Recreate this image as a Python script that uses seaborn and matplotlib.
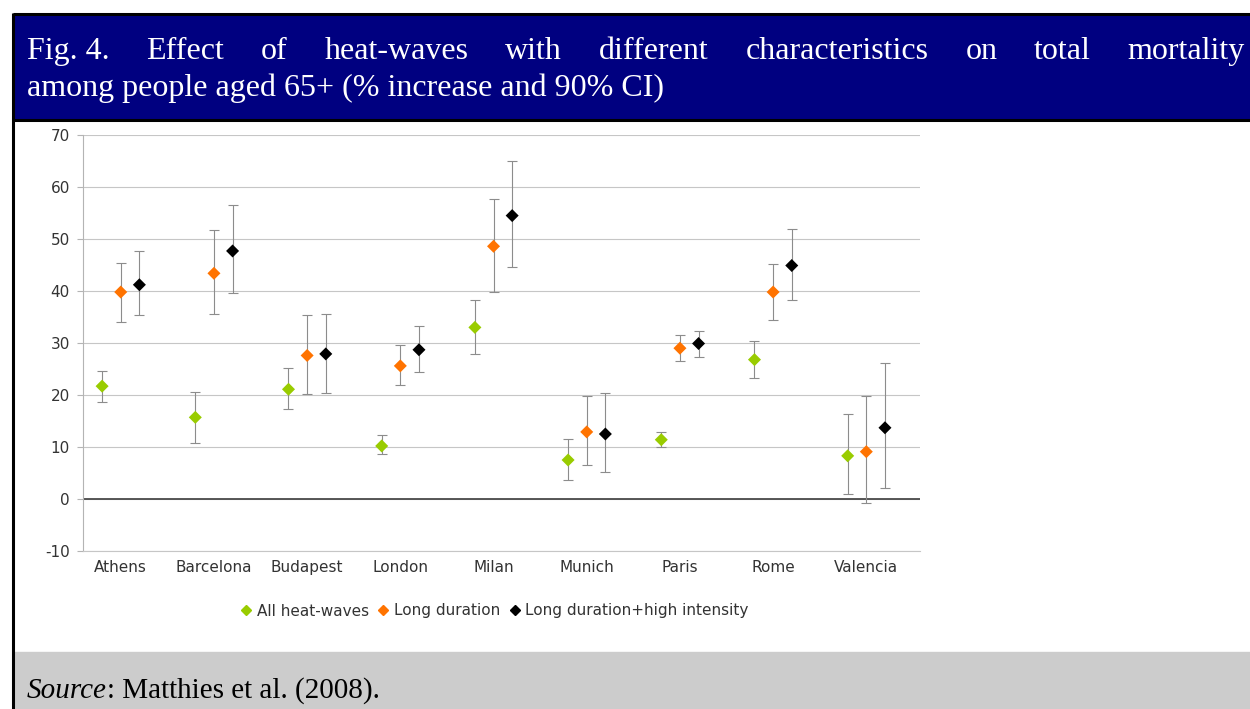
import matplotlib
matplotlib.use("Agg")
import matplotlib.pyplot as plt
from matplotlib.lines import Line2D
from matplotlib.patches import Rectangle
import numpy as np
import pandas as pd
import seaborn as sns

# ---- data: % increase in mortality (65+) with 90% CI ----
cities = ["Athens", "Barcelona", "Budapest", "London", "Milan",
          "Munich", "Paris", "Rome", "Valencia"]
series = ["All heat-waves", "Long duration", "Long duration+high intensity"]

all_est = [21.7, 15.7, 21.1, 10.2, 33.0, 7.5, 11.4, 26.8, 8.3]
all_lo = [18.6, 10.8, 17.4, 8.6, 27.9, 3.7, 10.0, 23.3, 0.9]
all_hi = [24.7, 20.5, 25.1, 12.3, 38.3, 11.5, 12.9, 30.4, 16.3]

long_est = [39.8, 43.4, 27.6, 25.6, 48.6, 12.9, 29.0, 39.8, 9.1]
long_lo = [34.1, 35.5, 20.2, 21.9, 39.8, 6.6, 26.5, 34.4, -0.8]
long_hi = [45.4, 51.8, 35.3, 29.6, 57.7, 19.9, 31.6, 45.2, 19.9]

intense_est = [41.2, 47.7, 27.9, 28.7, 54.5, 12.5, 29.9, 44.9, 13.7]
intense_lo = [35.3, 39.6, 20.4, 24.5, 44.7, 5.1, 27.3, 38.3, 2.1]
intense_hi = [47.6, 56.5, 35.5, 33.2, 65.0, 20.4, 32.4, 52.0, 26.1]

y_ticks = list(range(-10, 71, 10))

title_line1 = ["Fig.\u00a04.", "Effect", "of", "heat-waves", "with", "different",
               "characteristics", "on", "total", "mortality"]
title_line2 = "among people aged 65+ (% increase and 90% CI)"

colors = ["#99cc00", "#ff7300", "#000000"]
offsets = [-0.2, 0.0, 0.2]

# ---- tidy table ----
rows = []
for s, est, lo, hi in zip(series,
                          [all_est, long_est, intense_est],
                          [all_lo, long_lo, intense_lo],
                          [all_hi, long_hi, intense_hi]):
    for i, c in enumerate(cities):
        rows.append(dict(city=c, series=s, idx=i, est=est[i], lo=lo[i], hi=hi[i]))
df = pd.DataFrame(rows)
df["xpos"] = df["idx"] + df["series"].map(dict(zip(series, offsets)))

sns.set_theme(style="white")
plt.rcParams["font.family"] = ["DejaVu Sans"]
plt.rcParams["axes.unicode_minus"] = False

W, H = 1250, 709
fig = plt.figure(figsize=(W / 100, H / 100), dpi=100)
fig.patch.set_facecolor("white")


def fx(px):
    return px / W


def fy(py):
    return 1 - py / H


# header band, footer band and frame lines
fig.add_artist(Rectangle((fx(13), fy(120)), 1, fy(14) - fy(120),
                         transform=fig.transFigure, color="#000080", zorder=0))
fig.add_artist(Rectangle((fx(13), fy(709)), 1, fy(652) - fy(709),
                         transform=fig.transFigure, color="#cccccc", zorder=0))
for (x0, y0, x1, y1) in [(13, 14, 1250, 14), (13, 120, 1250, 120)]:
    fig.add_artist(Line2D([fx(x0), fx(x1)], [fy(y0), fy(y1)],
                          transform=fig.transFigure, color="black", lw=2.2,
                          solid_capstyle="butt"))
fig.add_artist(Line2D([fx(13), fx(13)], [fy(13), fy(709)],
                      transform=fig.transFigure, color="black", lw=2.2,
                      solid_capstyle="butt"))

# ---- chart ----
ax = fig.add_axes([fx(83), fy(551), fx(920) - fx(83), fy(135) - fy(551)])
ax.set_facecolor("white")

for s, col in zip(series, colors):
    d = df[df["series"] == s]
    ax.errorbar(d["xpos"], d["est"],
                yerr=[d["est"] - d["lo"], d["hi"] - d["est"]],
                fmt="none", ecolor="#8c8c8c", elinewidth=0.8,
                capsize=3.6, capthick=0.8, zorder=3)

sns.scatterplot(data=df, x="xpos", y="est", hue="series", hue_order=series,
                palette=colors, marker="D", s=44, linewidth=0,
                legend=False, ax=ax, zorder=4)

ax.set_xlim(-0.405, 8.576)
ax.set_ylim(-10, 70)
ax.set_yticks(y_ticks)
ax.set_xticks(range(len(cities)))
ax.set_xticklabels(cities)
ax.set_xlabel("")
ax.set_ylabel("")
ax.yaxis.grid(True, color="#c6c6c6", lw=0.8)
ax.xaxis.grid(False)
ax.set_axisbelow(True)
ax.axhline(0, color="#4a4a4a", lw=1.3, zorder=2)
for side in ["top", "right"]:
    ax.spines[side].set_visible(False)
ax.spines["left"].set_color("#b4b4b4")
ax.spines["left"].set_linewidth(0.8)
ax.spines["bottom"].set_color("#c6c6c6")
ax.spines["bottom"].set_linewidth(0.8)
ax.tick_params(axis="y", length=4.5, width=0.8, color="#b4b4b4",
               labelsize=11, labelcolor="#333333", pad=5, left=True)
ax.tick_params(axis="x", length=0, labelsize=11, labelcolor="#333333", pad=6.5)

handles = [Line2D([], [], marker="D", color=c, linestyle="none", markersize=5.5)
           for c in colors]
leg = fig.legend(handles, series, loc="center",
                 bbox_to_anchor=(fx(494), fy(611)), ncol=3, frameon=False,
                 handletextpad=0.25, columnspacing=0.5, handlelength=0.9,
                 fontsize=11)
for t in leg.get_texts():
    t.set_color("#333333")

# ---- title (first line justified across the band) ----
serif = ["Liberation Serif", "DejaVu Serif"]
left_px, right_px = 27, 1245
words = [fig.text(0, fy(59), w, color="white", fontsize=23, family=serif,
                  ha="left", va="baseline") for w in title_line1]
fig.canvas.draw()
renderer = fig.canvas.get_renderer()
widths = [w.get_window_extent(renderer).width for w in words]
gap = (right_px - left_px - sum(widths)) / (len(words) - 1)
x = left_px
for w, wd in zip(words, widths):
    w.set_x(fx(x))
    x += wd + gap

fig.text(fx(left_px), fy(96), title_line2, color="white", fontsize=23,
         family=serif, ha="left", va="baseline")

# ---- source note ----
src = fig.text(fx(27), fy(698), "Source", fontsize=21, family=serif,
               style="italic", color="black", ha="left", va="baseline")
fig.canvas.draw()
sw = src.get_window_extent(renderer).width
fig.text(fx(27 + sw), fy(698), ": Matthies et al. (2008).", fontsize=21,
         family=serif, color="black", ha="left", va="baseline")

fig.savefig("out.png", dpi=100, facecolor="white")
